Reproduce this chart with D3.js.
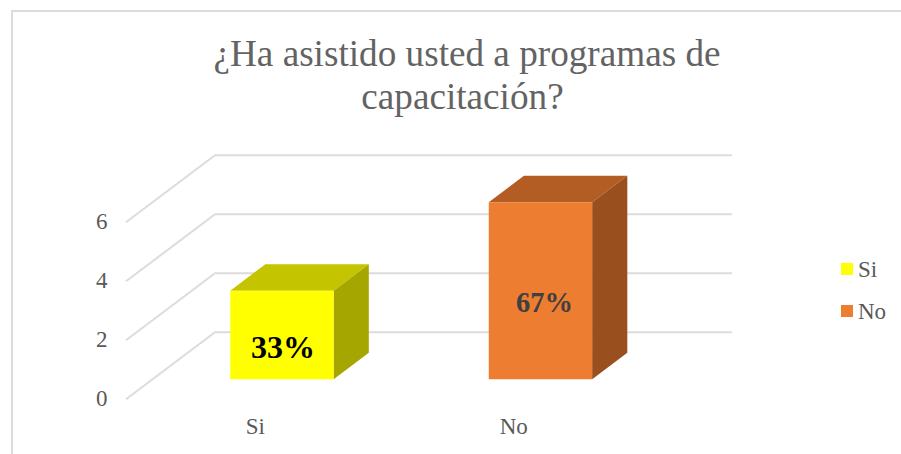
<!DOCTYPE html>
<html>
<head>
<meta charset="utf-8">
<script src="https://cdn.jsdelivr.net/npm/d3@7"></script>
<style>
  html, body { margin: 0; padding: 0; background: #fff; }
  svg { display: block; }
  text { font-family: "Liberation Serif", serif; }
</style>
</head>
<body>
<svg id="chart" width="901" height="454"></svg>
<script>
const titleLines = ["¿Ha asistido usted a programas de", "capacitación?"];
const categories = ["Si", "No"];
const seriesValues = [3, 6];
const seriesColors = ["#FFFF00", "#ED7D31"];
const topColors = ["#C4C400", "#B35D24"];
const sideColors = ["#A6A600", "#994F1E"];
const labelColors = ["#000000", "#404040"];
const labelSizes = [32, 28.5];
const yTicks = [0, 2, 4, 6];

const svg = d3.select("#chart");

// Chart frame: only the top and left edges fall inside the canvas.
svg.append("path")
  .attr("d", d3.line()([[12, 454], [12, 11], [901, 11]]))
  .attr("fill", "none").attr("stroke", "#DCDCDC").attr("stroke-width", 2);

// Oblique projection: floor position, value and depth map to the screen.
const floorX = d3.scaleBand().domain(categories).range([0, 517]).paddingInner(0.6).paddingOuter(0.3);
const categoryX = d3.scaleBand().domain(categories).range([0, 517]);
const yScale = d3.scaleLinear().domain([0, 2]).range([399.3, 340.3]);
const depthX = d3.scaleLinear().domain([0, 1]).range([126, 215]);
const depthY = d3.scaleLinear().domain([0, 1]).range([0, -67]);
const project = (x, v, z) => [x + depthX(z), yScale(v) + depthY(z)];

// Gridlines run from the front edge to the back wall, then across it.
const gridG = svg.append("g");
yTicks.forEach(t => {
  gridG.append("path")
    .attr("d", d3.line()([project(0, t, 0), project(0, t, 1), project(517, t, 1)]))
    .attr("fill", "none").attr("stroke", "#DCDCDC").attr("stroke-width", 2);
});

// Value axis labels.
svg.append("g").selectAll("text").data(yTicks).join("text")
  .attr("x", 107.5).attr("y", d => yScale(d) + 7)
  .attr("text-anchor", "end").attr("font-size", 23).attr("fill", "#595959")
  .text(d => d);

// Category axis labels.
svg.append("g").selectAll("text").data(categories).join("text")
  .attr("x", d => depthX(0) + categoryX(d) + categoryX.bandwidth() / 2)
  .attr("y", 434)
  .attr("text-anchor", "middle").attr("font-size", 23).attr("fill", "#595959")
  .text(d => d);

// Each bar is a box occupying the middle of the floor's depth.
const zFront = 0.3, zBack = 0.695;
const total = d3.sum(seriesValues);
const polygon = pts => d3.line()(pts) + "Z";
const bars = svg.append("g").selectAll("g").data(categories).join("g");

bars.append("path") // top face
  .attr("fill", (d, i) => topColors[i])
  .attr("d", (d, i) => {
    const x0 = floorX(d), x1 = x0 + floorX.bandwidth(), v = seriesValues[i];
    return polygon([project(x0, v, zFront), project(x1, v, zFront), project(x1, v, zBack), project(x0, v, zBack)]);
  });
bars.append("path") // side face
  .attr("fill", (d, i) => sideColors[i])
  .attr("d", (d, i) => {
    const x1 = floorX(d) + floorX.bandwidth(), v = seriesValues[i];
    return polygon([project(x1, 0, zFront), project(x1, v, zFront), project(x1, v, zBack), project(x1, 0, zBack)]);
  });
bars.append("path") // front face
  .attr("fill", (d, i) => seriesColors[i])
  .attr("d", (d, i) => {
    const x0 = floorX(d), x1 = x0 + floorX.bandwidth(), v = seriesValues[i];
    return polygon([project(x0, 0, zFront), project(x1, 0, zFront), project(x1, v, zFront), project(x0, v, zFront)]);
  });

// Data labels give each category's share of the total.
const labelOffsetX = [1, 4];
const labelBaseline = [358, 312];
bars.append("text")
  .attr("x", (d, i) => project(floorX(d) + floorX.bandwidth() / 2, 0, zFront)[0] + labelOffsetX[i])
  .attr("y", (d, i) => labelBaseline[i])
  .attr("text-anchor", "middle").attr("font-weight", "bold")
  .attr("font-size", (d, i) => labelSizes[i])
  .attr("fill", (d, i) => labelColors[i])
  .text((d, i) => d3.format(".0%")(seriesValues[i] / total));

// Legend.
const legendY = d3.scalePoint().domain(categories).range([269, 311]);
const legend = svg.append("g").selectAll("g").data(categories).join("g")
  .attr("transform", d => `translate(841,${legendY(d)})`);
legend.append("rect").attr("x", 0).attr("y", -6).attr("width", 12).attr("height", 12)
  .attr("fill", (d, i) => seriesColors[i]);
legend.append("text").attr("x", 17).attr("y", 7.5)
  .attr("font-size", 23).attr("fill", "#595959").text(d => d);

// Title, with its two centred lines set slightly apart horizontally.
const titleCentres = [467, 462.5];
svg.append("g").selectAll("text").data(titleLines).join("text")
  .attr("x", (d, i) => titleCentres[i]).attr("y", (d, i) => 65.5 + i * 43)
  .attr("text-anchor", "middle").attr("font-size", 37.2).attr("fill", "#636363")
  .text(d => d);
</script>
</body>
</html>
